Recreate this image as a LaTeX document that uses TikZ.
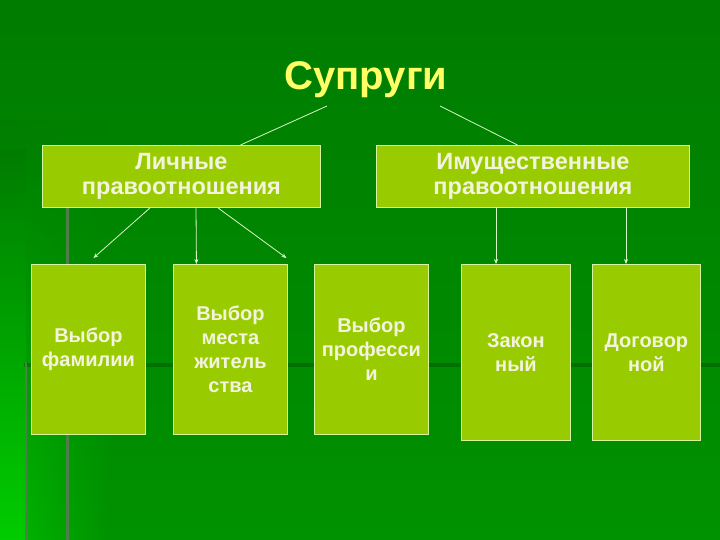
\documentclass[tikz,border=0pt]{standalone}
\usepackage{fontspec}
\setmainfont{Liberation Sans}
\usetikzlibrary{arrows.meta,fadings}
\definecolor{bgtop}{HTML}{007C00}
\definecolor{bgbot}{HTML}{009200}
\definecolor{boxfill}{HTML}{99CC00}
\definecolor{boxline}{HTML}{D6F5A0}
\definecolor{boxtext}{HTML}{F4F4DE}
\definecolor{titlecol}{HTML}{FFFF66}
\definecolor{arrcol}{HTML}{D8F8C8}
\definecolor{deco}{HTML}{4E7E4A}
\definecolor{bright}{HTML}{00CC00}
\tikzset{
  box/.style={draw=boxline, line width=0.9pt, fill=boxfill, inner sep=0pt,
    anchor=north west, align=center, text=boxtext,
    font=\fontsize{20}{24}\selectfont\bfseries},
  bigbox/.style={box, font=\fontsize{23.5}{25.5}\selectfont\bfseries},
  conn/.style={draw=arrcol, line width=0.8pt},
  arr/.style={conn, -{Stealth[length=5pt,width=4pt]}},
}
\begin{document}
\begin{tikzpicture}[x=1pt,y=-1pt]
\useasboundingbox (0,0) rectangle (720,540);
\shade[top color=bgtop, bottom color=bgbot] (0,0) rectangle (720,540);
% brighter left side
\shade[top color=bgtop, bottom color=bright, path fading=east, fill opacity=0.7] (0,120) rectangle (110,540);
\shade[top color=bgtop, bottom color=bright] (0,150) rectangle (26,540);
% decorative theme lines
\fill[black!40!bgbot, opacity=0.5] (24,363) rectangle (720,367);
\fill[deco] (24.5,363) rectangle (27,540);
\fill[deco] (65.5,207) rectangle (68.5,540);

\node[font=\fontsize{40}{48}\selectfont\bfseries, text=titlecol, anchor=base] (title) at (366,90) {Супруги};

\node[bigbox, minimum width=278pt, minimum height=62pt] (lich) at (42,145) {Личные\\правоотношения};
\node[bigbox, minimum width=313pt, minimum height=62pt] (imu) at (376,145) {Имущественные\\правоотношения};

\node[box, minimum width=114pt, minimum height=170pt] (fam) at (31,264) {Выбор\\фамилии};
\node[box, minimum width=114pt, minimum height=170pt] (mesto) at (173,264) {Выбор\\места\\житель\\ства};
\node[box, minimum width=114pt, minimum height=170pt] (prof) at (314,264) {Выбор\\професси\\и};
\node[box, minimum width=109pt, minimum height=176pt] (zak) at (461,264) {Закон\\ный};
\node[box, minimum width=108pt, minimum height=176pt] (dog) at (592,264) {Договор\\ной};

\draw[conn] ([xshift=-39pt,yshift=-16pt]title.base) -- ([xshift=59pt]lich.north);
\draw[conn] ([xshift=74pt,yshift=-16pt]title.base) -- ([xshift=-15.5pt]imu.north);

\draw[arr] ([xshift=108pt]lich.south west) -- ([xshift=5pt,yshift=6pt]fam.north);
\draw[arr] ([xshift=154pt]lich.south west) -- ([xshift=-34pt]mesto.north);
\draw[arr] ([xshift=176pt]lich.south west) -- ([xshift=56pt,yshift=6pt]mesto.north);

\draw[arr] ([xshift=120pt]imu.south west) -- ([xshift=35pt]zak.north west);
\draw[arr] ([xshift=250pt]imu.south west) -- ([xshift=34pt]dog.north west);
\end{tikzpicture}
\end{document}
